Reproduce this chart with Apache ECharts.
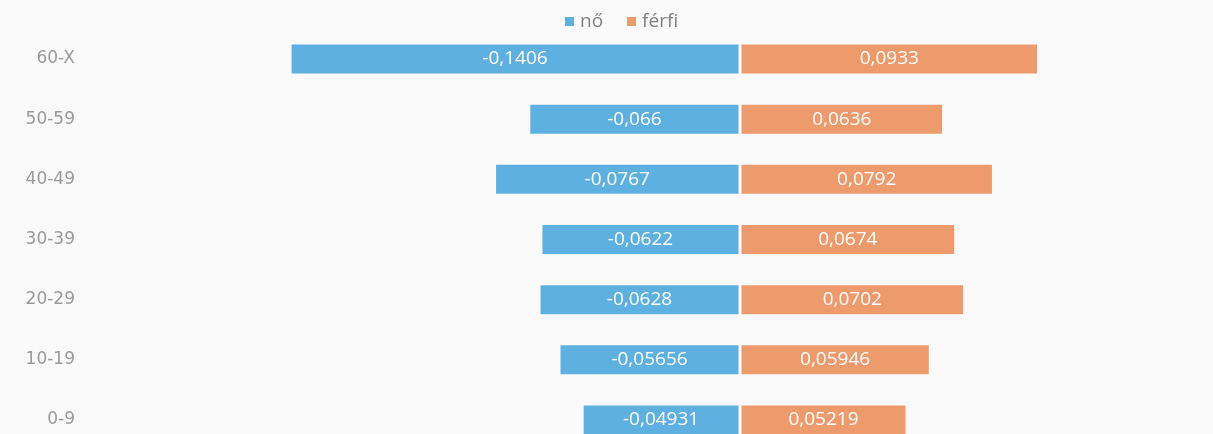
<!DOCTYPE html>
<html>
<head>
<meta charset="utf-8">
<script src="https://cdn.jsdelivr.net/npm/echarts@6/dist/echarts.min.js"></script>
<style>html,body{margin:0;padding:0;background:#fafafa}#c{width:1213px;height:434px}</style>
</head>
<body>
<div id="c"></div>
<script>
const categories = ['0-9', '10-19', '20-29', '30-39', '40-49', '50-59', '60-X'];
const noValues = [-0.04931, -0.05656, -0.0628, -0.0622, -0.0767, -0.066, -0.1406];
const ferfiValues = [0.05219, 0.05946, 0.0702, 0.0674, 0.0792, 0.0636, 0.0933];
const seriesNames = ['nő', 'férfi'];

const fmt = p => String(p.value).replace('.', ',');
const chart = echarts.init(document.getElementById('c'));
chart.setOption({
  backgroundColor: '#fafafa',
  animation: false,
  legend: {
    top: 7, left: 558,
    icon: 'rect', itemWidth: 11, itemHeight: 11, itemGap: 22,
    textStyle: { color: '#808080', fontSize: 19, fontFamily: 'Open Sans' },
    data: seriesNames
  },
  grid: { left: 100, width: 1088, top: 29, height: 421, containLabel: false, outerBoundsMode: 'none' },
  xAxis: { type: 'value', min: -0.2, max: 0.14, show: false, splitLine: { show: false } },
  yAxis: {
    type: 'category', data: categories,
    axisLine: { show: false }, axisTick: { show: false },
    axisLabel: { color: '#9a9a9a', fontSize: 17, fontFamily: 'DejaVu Sans', margin: 25 }
  },
  series: [
    {
      name: seriesNames[0], type: 'bar', data: noValues, barWidth: 32, barGap: '-100%',
      itemStyle: { color: '#5eb0e0', borderColor: '#fafafa', borderWidth: 1.5 },
      label: { show: true, position: 'inside', color: '#fff', fontSize: 19, fontFamily: 'Open Sans', formatter: fmt }
    },
    {
      name: seriesNames[1], type: 'bar', data: ferfiValues, barWidth: 32,
      itemStyle: { color: '#ed9a6d', borderColor: '#fafafa', borderWidth: 1.5 },
      label: { show: true, position: 'inside', color: '#fff', fontSize: 19, fontFamily: 'Open Sans', formatter: fmt }
    }
  ]
});
</script>
</body>
</html>
